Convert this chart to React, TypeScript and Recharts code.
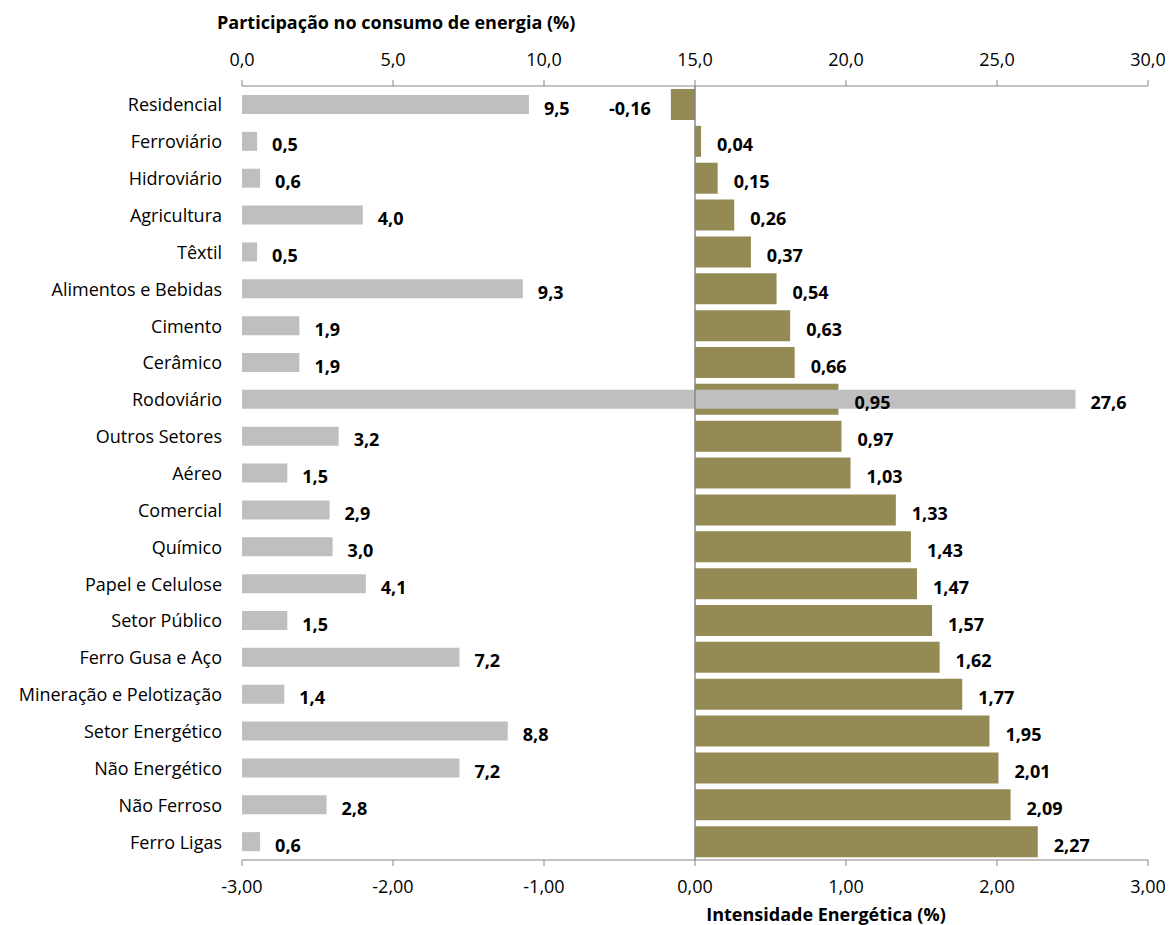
import React from 'react';
import { BarChart, Bar, XAxis, YAxis, ReferenceLine, LabelList } from 'recharts';

const setores = [
  'Residencial', 'Ferroviário', 'Hidroviário', 'Agricultura', 'Têxtil',
  'Alimentos e Bebidas', 'Cimento', 'Cerâmico', 'Rodoviário', 'Outros Setores',
  'Aéreo', 'Comercial', 'Químico', 'Papel e Celulose', 'Setor Público',
  'Ferro Gusa e Aço', 'Mineração e Pelotização', 'Setor Energético',
  'Não Energético', 'Não Ferroso', 'Ferro Ligas',
];

// participação no consumo de energia (%)
const participacao = [
  9.5, 0.5, 0.6, 4.0, 0.5, 9.3, 1.9, 1.9, 27.6, 3.2, 1.5,
  2.9, 3.0, 4.1, 1.5, 7.2, 1.4, 8.8, 7.2, 2.8, 0.6,
];

// intensidade energética (%)
const intensidade = [
  -0.16, 0.04, 0.15, 0.26, 0.37, 0.54, 0.63, 0.66, 0.95, 0.97, 1.03,
  1.33, 1.43, 1.47, 1.57, 1.62, 1.77, 1.95, 2.01, 2.09, 2.27,
];

const ticksParticipacao = [0, 5, 10, 15, 20, 25, 30];
const ticksIntensidade = [-3, -2, -1, 0, 1, 2, 3];

const data = setores.map((setor, i) => ({
  setor,
  participacao: participacao[i],
  intensidade: intensidade[i],
}));

const FONT = '"Open Sans", sans-serif';
const CINZA_EIXO = '#868686';
const TAM = 18;

const fmt = (v: number, casas: number) => v.toFixed(casas).replace('.', ',');

const caixa = (props: any) => {
  const vb = props.viewBox ?? props;
  return { x: Number(vb.x), y: Number(vb.y), width: Number(vb.width), height: Number(vb.height) };
};

const RotuloParticipacao = (props: any) => {
  const { x, y, width, height } = caixa(props);
  const fim = Math.max(x, x + width);
  return (
    <text x={fim + 15} y={y + height / 2 + 3} dominantBaseline="central"
      fontFamily={FONT} fontSize={TAM} fontWeight="bold" fill="#000">
      {fmt(Number(props.value), 1)}
    </text>
  );
};

const RotuloIntensidade = (props: any) => {
  const { x, y, width, height } = caixa(props);
  const v = Number(props.value);
  const negativo = v < 0;
  const px = negativo ? Math.min(x, x + width) - 20 : Math.max(x, x + width) + 16;
  return (
    <text x={px} y={y + height / 2 + 3} dominantBaseline="central"
      textAnchor={negativo ? 'end' : 'start'}
      fontFamily={FONT} fontSize={TAM} fontWeight="bold" fill="#000">
      {fmt(v, 2)}
    </text>
  );
};

// nome do setor alinhado à direita, 20px antes da área do gráfico
const TickSetor = (props: any) => {
  const { y, payload } = props;
  return (
    <text x={214} y={y} dominantBaseline="central" textAnchor="end"
      fontFamily={FONT} fontSize={TAM} fill="#000">
      {payload.value}
    </text>
  );
};

const titulo: React.CSSProperties = {
  position: 'absolute',
  fontFamily: FONT,
  fontSize: TAM,
  fontWeight: 'bold',
  lineHeight: '20px',
  whiteSpace: 'nowrap',
  color: '#000',
};

export default function App() {
  return (
    <div style={{ position: 'relative', width: 1165, height: 917 }}>
      <BarChart
        width={1165}
        height={917}
        data={data}
        layout="vertical"
        margin={{ top: 38, right: 25, bottom: 37, left: 4 }}
        style={{ fontFamily: FONT }}
      >
        <XAxis
          xAxisId="part"
          orientation="top"
          type="number"
          domain={[0, 30]}
          ticks={ticksParticipacao}
          tickFormatter={(v) => fmt(v, 1)}
          height={40}
          stroke={CINZA_EIXO}
          tick={{ fill: '#000', fontSize: TAM }}
          tickSize={6}
          tickMargin={14}
        />
        <XAxis
          xAxisId="int"
          orientation="bottom"
          type="number"
          domain={[-3, 3]}
          ticks={ticksIntensidade}
          tickFormatter={(v) => fmt(v, 2)}
          height={28}
          stroke={CINZA_EIXO}
          tick={{ fill: '#000', fontSize: TAM }}
          tickSize={6}
          tickMargin={14}
        />
        <YAxis
          yAxisId="setor"
          type="category"
          dataKey="setor"
          width={230}
          axisLine={false}
          tickLine={false}
          tick={<TickSetor />}
          interval={0}
        />
        <YAxis yAxisId="part" type="category" dataKey="setor" width={0} hide />
        <YAxis yAxisId="rot" type="category" dataKey="setor" width={0} hide />

        <Bar
          dataKey="intensidade"
          xAxisId="int"
          yAxisId="setor"
          fill="#948A54"
          barSize={31}
          isAnimationActive={false}
        />
        <Bar
          dataKey="participacao"
          xAxisId="part"
          yAxisId="part"
          fill="#BFBFBF"
          barSize={19}
          isAnimationActive={false}
        >
          <LabelList dataKey="participacao" content={RotuloParticipacao} />
        </Bar>
        {/* rótulos da intensidade por cima das barras cinzas */}
        <Bar
          dataKey="intensidade"
          xAxisId="int"
          yAxisId="rot"
          fill="none"
          barSize={31}
          isAnimationActive={false}
        >
          <LabelList dataKey="intensidade" content={RotuloIntensidade} />
        </Bar>
        <ReferenceLine x={0} xAxisId="int" yAxisId="setor" stroke={CINZA_EIXO} strokeWidth={1.5} />
      </BarChart>

      <div style={{ ...titulo, left: 209, top: 4 }}>Participação no consumo de energia (%)</div>
      <div style={{ ...titulo, left: 818, top: 896, transform: 'translateX(-50%)' }}>
        Intensidade Energética (%)
      </div>
    </div>
  );
}
